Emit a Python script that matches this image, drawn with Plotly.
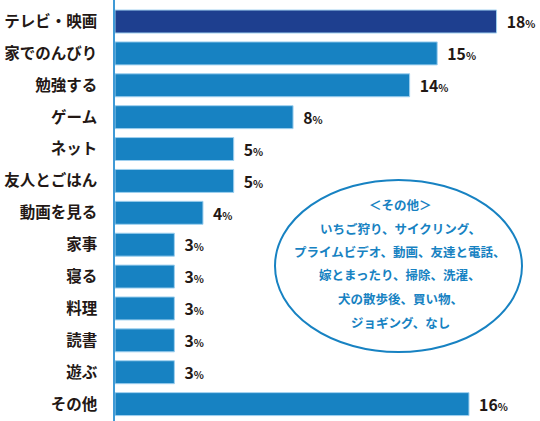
import plotly.graph_objects as go

# 項目と割合（バーの長さは図から読み取った値、ラベルは表示されている整数%）
categories = ["テレビ・映画", "家でのんびり", "勉強する", "ゲーム", "ネット", "友人とごはん",
              "動画を見る", "家事", "寝る", "料理", "読書", "遊ぶ", "その他"]
values = [18.0, 15.2, 13.9, 8.4, 5.6, 5.6, 4.15, 2.8, 2.8, 2.8, 2.8, 2.8, 16.7]
pct_labels = [18, 15, 14, 8, 5, 5, 4, 3, 3, 3, 3, 3, 16]

other_title = "＜その他＞"
other_lines = ["いちご狩り、サイクリング、",
               "プライムビデオ、動画、友達と電話、",
               "嫁とまったり、掃除、洗濯、",
               "犬の散歩後、買い物、",
               "ジョギング、なし"]

navy = "#1e3f8f"
blue = "#1782c2"
ink = "#231815"
jp = "Noto Sans CJK JP"

colors = [navy] + [blue] * (len(categories) - 1)
texts = ["  <b>%d</b><span style='font-size:11px'><b>%%</b></span>" % p for p in pct_labels]

fig = go.Figure()
fig.add_trace(go.Bar(
    x=values, y=categories, orientation="h",
    marker=dict(color=colors, line=dict(color="#9fd0ef", width=1)),
    width=0.72,
    text=texts, textposition="outside", cliponaxis=False,
    textfont=dict(family=jp, size=16.5, color=ink),
    hoverinfo="skip",
))

fig.update_layout(
    width=540, height=421,
    margin=dict(l=115, r=0, t=0, b=0, autoexpand=False),
    plot_bgcolor="white", paper_bgcolor="white",
    showlegend=False,
    font=dict(family=jp),
)
fig.update_xaxes(range=[0, 20.05], visible=False, fixedrange=True, automargin=False)
fig.update_yaxes(
    range=[12.53, -0.675], automargin=False, fixedrange=True,
    showline=True, linecolor="#3f9ad6", linewidth=1.5,
    showgrid=False, ticks="",
    ticklabelstandoff=13,
    tickfont=dict(family=jp, size=15.5, color=ink, weight="bold"),
)

# その他の内訳（楕円の吹き出し）
fig.add_shape(type="circle", xref="paper", yref="paper",
              x0=(275 - 115) / 425, x1=(522 - 115) / 425,
              y0=(421 - 352) / 421, y1=(421 - 180) / 421,
              line=dict(color=blue, width=2), fillcolor="white", layer="above")

line_y = [205, 228, 251, 274, 298, 322]
for txt, py in zip([other_title] + other_lines, line_y):
    fig.add_annotation(x=(400 - 115) / 425, y=(421 - py) / 421,
                       xref="paper", yref="paper", showarrow=False,
                       xanchor="center", yanchor="middle",
                       text="<b>%s</b>" % txt,
                       font=dict(family=jp, size=12.5, color=blue))

# ページ余白をなくしてウィンドウいっぱいに
fig.write_html("out.html", config={"displayModeBar": False},
               post_script="document.body.style.margin='0';")
